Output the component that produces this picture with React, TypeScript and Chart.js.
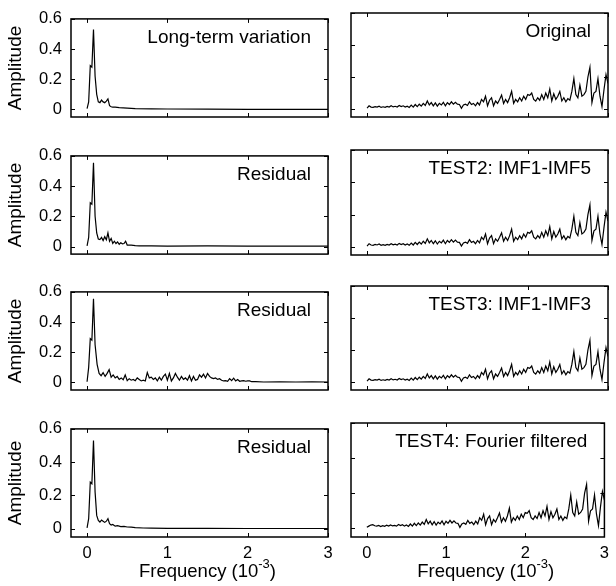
import React, { useEffect, useRef } from "react";
import { Chart, registerables } from "chart.js";

Chart.register(...registerables);

const FONT = '"Liberation Sans", Arial, Helvetica, sans-serif';

// ---- axes ----
const xTicks = [0, 1, 2, 3];
const yTicks = [0, 0.2, 0.4, 0.6];
const X_MIN = -0.2;
const X_MAX = 3;
const Y_MIN = -0.05;
const Y_MAX = 0.6;
const yAxisTitle = "Amplitude";
const xAxisTitle = "Frequency (10";
const xAxisTitleSup = "-3";
const xAxisTitleEnd = ")";

// ---- left column (low-frequency components) ----
const longTermFreq = [0, 0.02, 0.04, 0.06, 0.08, 0.1, 0.12, 0.14, 0.16, 0.18, 0.2, 0.22, 0.24, 0.26, 0.28, 0.3, 0.32, 0.35, 0.4, 0.5, 0.6, 0.8, 1.0, 1.5, 2.0, 2.5, 3.0];
const longTermAmp = [0.005, 0.05, 0.29, 0.28, 0.53, 0.22, 0.1, 0.05, 0.045, 0.062, 0.05, 0.045, 0.055, 0.07, 0.025, 0.018, 0.016, 0.015, 0.012, 0.009, 0.006, 0.004, 0.003, 0.002, 0.001, 0.001, 0.001];

const residual2Freq = [0, 0.02, 0.04, 0.06, 0.08, 0.1, 0.12, 0.14, 0.16, 0.18, 0.2, 0.22, 0.24, 0.26, 0.28, 0.3, 0.32, 0.34, 0.36, 0.38, 0.4, 0.42, 0.44, 0.46, 0.48, 0.5, 0.55, 0.6, 0.65, 0.8, 1.0, 1.5, 2.0, 2.5, 3.0];
const residual2Amp = [0.005, 0.06, 0.29, 0.28, 0.555, 0.2, 0.09, 0.05, 0.046, 0.06, 0.04, 0.065, 0.045, 0.09, 0.035, 0.054, 0.02, 0.035, 0.02, 0.03, 0.015, 0.025, 0.018, 0.02, 0.035, 0.01, 0.01, 0.006, 0.004, 0.005, 0.003, 0.004, 0.003, 0.003, 0.003];

const residual3Freq = [
  0, 0.02, 0.04, 0.06, 0.08, 0.1, 0.125, 0.15, 0.175, 0.2, 0.225, 0.25, 0.275, 0.3, 0.325, 0.35, 0.375, 0.4, 0.425, 0.45,
  0.475, 0.5, 0.525, 0.55, 0.575, 0.6, 0.625, 0.65, 0.675, 0.7, 0.725, 0.75, 0.775, 0.8, 0.825, 0.85, 0.875, 0.9, 0.925, 0.95,
  0.975, 1.0, 1.025, 1.05, 1.075, 1.1, 1.125, 1.15, 1.175, 1.2, 1.225, 1.25, 1.275, 1.3, 1.325, 1.35, 1.375, 1.4, 1.425, 1.45,
  1.475, 1.5, 1.525, 1.55, 1.575, 1.6, 1.625, 1.65, 1.675, 1.7, 1.725, 1.75, 1.775, 1.8, 1.825, 1.85, 1.875, 1.9, 1.925, 1.95,
  1.975, 2.0, 2.025, 2.05, 2.1, 2.2, 2.4, 2.6, 2.8, 3.0,
];
const residual3Amp = [
  0.005, 0.1, 0.29, 0.28, 0.555, 0.25, 0.12, 0.06, 0.045, 0.065, 0.04, 0.06, 0.085, 0.035, 0.05, 0.03, 0.04, 0.02, 0.03, 0.018,
  0.05, 0.012, 0.025, 0.015, 0.02, 0.012, 0.03, 0.02, 0.01, 0.015, 0.01, 0.065, 0.03, 0.035, 0.02, 0.03, 0.01, 0.035, 0.015, 0.04,
  0.055, 0.015, 0.06, 0.01, 0.03, 0.06, 0.035, 0.015, 0.04, 0.02, 0.03, 0.015, 0.045, 0.01, 0.04, 0.015, 0.02, 0.05, 0.035, 0.055,
  0.03, 0.06, 0.04, 0.03, 0.025, 0.03, 0.02, 0.025, 0.015, 0.01, 0.012, 0.008, 0.025, 0.012, 0.028, 0.01, 0.02, 0.008, 0.01, 0.012,
  0.008, 0.01, 0.01, 0.005, 0.006, 0.003, 0.004, 0.003, 0.004, 0.003,
];

const residual4Freq = [0, 0.02, 0.04, 0.06, 0.08, 0.1, 0.12, 0.14, 0.16, 0.18, 0.2, 0.22, 0.24, 0.26, 0.28, 0.3, 0.32, 0.35, 0.38, 0.42, 0.46, 0.5, 0.55, 0.6, 0.7, 0.8, 1.0, 1.5, 2.0, 2.5, 3.0];
const residual4Amp = [0.005, 0.06, 0.28, 0.27, 0.53, 0.22, 0.08, 0.05, 0.04, 0.052, 0.045, 0.038, 0.045, 0.06, 0.03, 0.022, 0.025, 0.015, 0.018, 0.012, 0.014, 0.01, 0.009, 0.006, 0.004, 0.003, 0.002, 0.002, 0.001, 0.001, 0.001];

// ---- right column (high-frequency spectra, bin width 0.025) ----
const FREQ_STEP = 0.025;
const originalAmp = [
  0.005, 0.02, 0.012, 0.01, 0.015, 0.012, 0.018, 0.01, 0.014, 0.01,
  0.016, 0.012, 0.02, 0.013, 0.017, 0.012, 0.022, 0.015, 0.02, 0.012,
  0.018, 0.01, 0.024, 0.012, 0.028, 0.015, 0.03, 0.018, 0.035, 0.022,
  0.05, 0.025, 0.04, 0.02, 0.038, 0.018, 0.035, 0.025, 0.042, 0.02,
  0.04, 0.028, 0.045, 0.03, 0.042, 0.03, 0.028, 0.005, 0.025, 0.03,
  0.022, 0.045, 0.028, 0.035, 0.02, 0.04, 0.025, 0.06, 0.045, 0.08,
  0.02, 0.055, 0.07, 0.02, 0.05, 0.035, 0.06, 0.087, 0.035, 0.06,
  0.04, 0.07, 0.11, 0.035, 0.06, 0.045, 0.07, 0.05, 0.08, 0.06,
  0.09, 0.085, 0.1, 0.06, 0.05, 0.07, 0.055, 0.09, 0.06, 0.1,
  0.07, 0.125, 0.05, 0.095, 0.06, 0.08, 0.11, 0.05, 0.07, 0.045,
  0.065, 0.055, 0.11, 0.19, 0.09, 0.07, 0.15, 0.08, 0.09, 0.11,
  0.2, 0.26, 0.04, 0.1, 0.11, 0.19, 0.08, 0.015, 0.12, 0.215,
  0.16,
];
const test2Amp = originalAmp;
const test3Amp = originalAmp;
const test4Amp = [
  0.005, 0.012, 0.018, 0.02, 0.014, 0.012, 0.016, 0.01, 0.015, 0.011,
  0.017, 0.012, 0.019, 0.013, 0.016, 0.012, 0.021, 0.015, 0.02, 0.012,
  0.018, 0.01, 0.024, 0.012, 0.028, 0.015, 0.03, 0.018, 0.035, 0.022,
  0.05, 0.025, 0.04, 0.02, 0.038, 0.018, 0.035, 0.025, 0.042, 0.02,
  0.04, 0.028, 0.045, 0.03, 0.042, 0.03, 0.028, 0.005, 0.025, 0.03,
  0.022, 0.045, 0.028, 0.035, 0.02, 0.04, 0.025, 0.06, 0.045, 0.08,
  0.02, 0.055, 0.07, 0.02, 0.05, 0.035, 0.06, 0.087, 0.035, 0.06,
  0.04, 0.07, 0.115, 0.035, 0.06, 0.045, 0.07, 0.05, 0.08, 0.06,
  0.09, 0.085, 0.1, 0.06, 0.05, 0.07, 0.055, 0.09, 0.06, 0.1,
  0.07, 0.125, 0.05, 0.095, 0.06, 0.08, 0.11, 0.05, 0.07, 0.045,
  0.065, 0.055, 0.11, 0.19, 0.09, 0.07, 0.15, 0.08, 0.09, 0.11,
  0.2, 0.25, 0.04, 0.1, 0.11, 0.19, 0.08, 0.015, 0.12, 0.21,
  0.16,
];
const rightFreq = originalAmp.map((_, i) => i * FREQ_STEP);

type PanelSpec = { title: string; freq: number[]; amp: number[]; row: number; col: number };

const panels: PanelSpec[] = [
  { title: "Long-term variation", freq: longTermFreq, amp: longTermAmp, row: 0, col: 0 },
  { title: "Original", freq: rightFreq, amp: originalAmp, row: 0, col: 1 },
  { title: "Residual", freq: residual2Freq, amp: residual2Amp, row: 1, col: 0 },
  { title: "TEST2: IMF1-IMF5", freq: rightFreq, amp: test2Amp, row: 1, col: 1 },
  { title: "Residual", freq: residual3Freq, amp: residual3Amp, row: 2, col: 0 },
  { title: "TEST3: IMF1-IMF3", freq: rightFreq, amp: test3Amp, row: 2, col: 1 },
  { title: "Residual", freq: residual4Freq, amp: residual4Amp, row: 3, col: 0 },
  { title: "TEST4: Fourier filtered", freq: rightFreq, amp: test4Amp, row: 3, col: 1 },
];

// ---- layout (pixels) ----
const ROW_TOPS = [0, 137, 273, 410];
const PAGE_H = 586;
const PAD_TOP = 13;
const PLOT_H = 114;
const COLS = [
  { left: 0, width: 340, yAxisW: 71, padLeft: 0, padRight: 12 },
  { left: 340, width: 276, yAxisW: 0, padLeft: 11, padRight: 8 },
];

const framePlugin = {
  id: "gnuFrame",
  afterDraw(chart: any, _args: any, opts: any) {
    const { ctx, chartArea } = chart;
    const xs = chart.scales.x;
    const ys = chart.scales.y;
    const { left, right, top, bottom } = chartArea;
    ctx.save();
    ctx.strokeStyle = "#000";
    ctx.lineWidth = 1;
    const T = 4;
    ctx.beginPath();
    for (const v of xTicks) {
      const p = Math.round(xs.getPixelForValue(v)) + 0.5;
      ctx.moveTo(p, bottom);
      ctx.lineTo(p, bottom - T);
      ctx.moveTo(p, top);
      ctx.lineTo(p, top + T);
    }
    for (const v of yTicks) {
      const p = Math.round(ys.getPixelForValue(v)) + 0.5;
      ctx.moveTo(left, p);
      ctx.lineTo(left + T, p);
      ctx.moveTo(right, p);
      ctx.lineTo(right - T, p);
    }
    ctx.stroke();
    ctx.lineWidth = 1.5;
    ctx.strokeRect(left, top, right - left, bottom - top);

    // panel title
    ctx.fillStyle = "#000";
    ctx.font = `19px ${FONT}`;
    ctx.textAlign = "right";
    ctx.textBaseline = "alphabetic";
    ctx.fillText(opts.title, right - 17, top + 24);

    // x-axis title with superscript
    if (opts.showXTitle) {
      const mainFont = `18.5px ${FONT}`;
      const supFont = `13px ${FONT}`;
      ctx.font = mainFont;
      const w1 = ctx.measureText(xAxisTitle).width;
      const w3 = ctx.measureText(xAxisTitleEnd).width;
      ctx.font = supFont;
      const w2 = ctx.measureText(xAxisTitleSup).width;
      const total = w1 + w2 + w3;
      const cx = (left + right) / 2 + 8;
      let x = cx - total / 2;
      const base = bottom + 40;
      ctx.textAlign = "left";
      ctx.font = mainFont;
      ctx.fillText(xAxisTitle, x, base);
      x += w1;
      ctx.font = supFont;
      ctx.fillText(xAxisTitleSup, x, base - 9);
      x += w2;
      ctx.font = mainFont;
      ctx.fillText(xAxisTitleEnd, x, base);
    }
    ctx.restore();
  },
};

function Panel({ spec }: { spec: PanelSpec }) {
  const ref = useRef<HTMLCanvasElement | null>(null);
  const col = COLS[spec.col];
  const top = ROW_TOPS[spec.row];
  const isBottom = spec.row === ROW_TOPS.length - 1;
  const height = isBottom ? PAGE_H - top : ROW_TOPS[spec.row + 1] - top;
  const bottomSpace = height - PAD_TOP - PLOT_H;

  useEffect(() => {
    if (!ref.current) return;
    const chart = new Chart(ref.current, {
      type: "line",
      data: {
        datasets: [
          {
            data: spec.freq.map((f, i) => ({ x: f, y: spec.amp[i] })),
            borderColor: "#000",
            borderWidth: 1.2,
            pointRadius: 0,
            tension: 0,
            fill: false,
          },
        ],
      },
      options: {
        responsive: false,
        animation: false,
        devicePixelRatio: 1,
        layout: {
          padding: {
            top: PAD_TOP,
            left: col.padLeft,
            right: col.padRight,
            bottom: isBottom ? 0 : bottomSpace,
          },
        },
        plugins: {
          legend: { display: false },
          tooltip: { enabled: false },
          gnuFrame: { title: spec.title, showXTitle: isBottom },
        } as any,
        scales: {
          x: {
            type: "linear",
            min: X_MIN,
            max: X_MAX,
            display: isBottom,
            afterBuildTicks: (s: any) => {
              s.ticks = xTicks.map((v) => ({ value: v }));
            },
            afterFit: (s: any) => {
              s.height = bottomSpace;
            },
            grid: { display: false, drawTicks: false },
            border: { display: false },
            ticks: {
              color: "#000",
              font: { size: 16.5, family: FONT },
              padding: 7,
              maxRotation: 0,
              autoSkip: false,
              callback: (v: any) => String(v),
            },
          },
          y: {
            type: "linear",
            min: Y_MIN,
            max: Y_MAX,
            display: spec.col === 0,
            afterBuildTicks: (s: any) => {
              s.ticks = yTicks.map((v) => ({ value: v }));
            },
            afterFit: (s: any) => {
              s.width = col.yAxisW;
            },
            grid: { display: false, drawTicks: false },
            border: { display: false },
            ticks: {
              color: "#000",
              font: { size: 16.5, family: FONT },
              padding: 9,
              callback: (v: any) => String(v),
            },
            title: {
              display: true,
              text: yAxisTitle,
              color: "#000",
              font: { size: 19, family: FONT },
              padding: { top: 4, bottom: 0 },
            },
          },
        },
      },
      plugins: [framePlugin],
    });
    return () => chart.destroy();
  }, []);

  return (
    <canvas
      ref={ref}
      width={col.width}
      height={height}
      style={{ position: "absolute", left: col.left, top, width: col.width, height }}
    />
  );
}

export default function App() {
  return (
    <div style={{ position: "absolute", left: 0, top: 0, width: 616, height: 586, background: "#fff", overflow: "hidden" }}>
      {panels.map((p, i) => (
        <Panel key={i} spec={p} />
      ))}
    </div>
  );
}
